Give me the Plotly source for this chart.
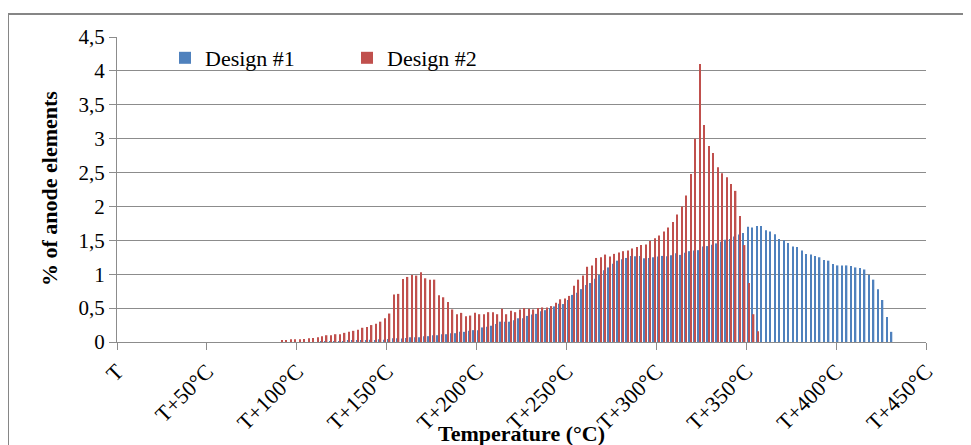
import plotly.graph_objects as go

# Temperature bins: 2.5 °C wide, from T to T+450 °C (bin centres, offset from T)
bin_width = 2.5
bin_centers = [bin_width / 2 + bin_width * i for i in range(180)]

# % of anode elements per bin (rows of 20 bins = 50 °C)
design1 = [
    0, 0, 0, 0, 0, 0, 0, 0, 0, 0, 0, 0, 0, 0, 0, 0, 0, 0, 0, 0,
    0, 0, 0, 0, 0, 0, 0, 0, 0, 0, 0, 0, 0, 0, 0, 0, 0, 0, 0, 0,
    0, 0, 0, 0, 0, 0.005, 0.005, 0.01, 0.01, 0.01, 0.012, 0.015, 0.02, 0.015, 0.02, 0.025, 0.035, 0.03, 0.04, 0.035,
    0.045, 0.055, 0.055, 0.05, 0.06, 0.07, 0.07, 0.07, 0.085, 0.086, 0.10, 0.10, 0.115, 0.115, 0.13, 0.13, 0.15, 0.15, 0.165, 0.175,
    0.175, 0.215, 0.225, 0.24, 0.265, 0.30, 0.30, 0.30, 0.32, 0.35, 0.35, 0.385, 0.405, 0.415, 0.455, 0.47, 0.50, 0.525, 0.565, 0.56,
    0.62, 0.695, 0.725, 0.78, 0.84, 0.87, 0.935, 0.99, 1.06, 1.10, 1.155, 1.20, 1.22, 1.24, 1.27, 1.265, 1.27, 1.235, 1.24, 1.25,
    1.26, 1.27, 1.265, 1.28, 1.31, 1.285, 1.315, 1.34, 1.35, 1.355, 1.41, 1.415, 1.435, 1.455, 1.48, 1.51, 1.52, 1.555, 1.585, 1.61,
    1.70, 1.69, 1.71, 1.71, 1.65, 1.63, 1.59, 1.52, 1.50, 1.46, 1.41, 1.40, 1.35, 1.30, 1.29, 1.27, 1.25, 1.21, 1.20, 1.15,
    1.13, 1.13, 1.13, 1.12, 1.10, 1.09, 1.07, 0.99, 0.92, 0.78, 0.62, 0.37, 0.15, 0, 0, 0, 0, 0, 0, 0,
]

design2 = [
    0, 0, 0, 0, 0, 0, 0, 0, 0, 0, 0, 0, 0, 0, 0, 0, 0, 0, 0, 0,
    0, 0, 0, 0, 0, 0, 0, 0, 0, 0, 0, 0, 0, 0, 0, 0, 0.025, 0.03, 0.04, 0.04,
    0.04, 0.045, 0.055, 0.06, 0.07, 0.085, 0.10, 0.10, 0.115, 0.115, 0.135, 0.15, 0.165, 0.18, 0.21, 0.22, 0.25, 0.27, 0.30, 0.35,
    0.42, 0.70, 0.71, 0.93, 0.96, 0.99, 0.98, 1.03, 0.94, 0.92, 0.92, 0.69, 0.66, 0.59, 0.48, 0.41, 0.43, 0.38, 0.39, 0.43,
    0.41, 0.41, 0.44, 0.44, 0.41, 0.49, 0.41, 0.46, 0.44, 0.48, 0.50, 0.49, 0.48, 0.50, 0.51, 0.51, 0.53, 0.58, 0.63, 0.64,
    0.68, 0.83, 0.92, 0.98, 1.11, 1.13, 1.24, 1.25, 1.29, 1.26, 1.30, 1.32, 1.34, 1.35, 1.38, 1.40, 1.43, 1.44, 1.49, 1.53,
    1.57, 1.63, 1.69, 1.77, 1.88, 2.00, 2.16, 2.48, 3.00, 4.10, 3.20, 2.89, 2.79, 2.58, 2.49, 2.43, 2.33, 2.23, 1.86, 1.43,
    0.87, 0.41, 0.16, 0, 0, 0, 0, 0, 0, 0, 0, 0, 0, 0, 0, 0, 0, 0, 0, 0,
    0, 0, 0, 0, 0, 0, 0, 0, 0, 0, 0, 0, 0, 0, 0, 0, 0, 0, 0, 0,
]

x_tick_vals = [0, 50, 100, 150, 200, 250, 300, 350, 400, 450]
x_tick_text = ["T", "T+50°C", "T+100°C", "T+150°C", "T+200°C", "T+250°C",
               "T+300°C", "T+350°C", "T+400°C", "T+450°C"]
y_tick_vals = [0, 0.5, 1, 1.5, 2, 2.5, 3, 3.5, 4, 4.5]
y_tick_text = ["0", "0,5", "1", "1,5", "2", "2,5", "3", "3,5", "4", "4,5"]

BLUE = "#4F81BD"
RED = "#C0504D"
GRID = "#8C8C8C"
SERIF = "Liberation Serif"

fig = go.Figure()
fig.add_trace(go.Bar(x=bin_centers, y=design1, name="Design #1", showlegend=True,
                     marker=dict(color=BLUE, line=dict(width=0)), legend="legend"))
fig.add_trace(go.Bar(x=bin_centers, y=design2, name="Design #2", showlegend=True,
                     marker=dict(color=RED, line=dict(width=0)), legend="legend2"))

# page is 971x445; the html body adds an 8px margin, so the figure is drawn at (8, 8)
OFF = 8
W, H = 971 - OFF, 445 - OFF
PL, PR, PT, PB = 117, 926, 37, 342      # plot area in page pixels
ml, mr, mt, mb = PL - OFF, 971 - PR, PT - OFF, 445 - PB
pw = W - ml - mr
ph = H - mt - mb

def px2x(px):
    return (px - PL) / pw

def py2y(py):
    return (PB - py) / ph

fig.update_layout(
    width=W, height=H,
    margin=dict(l=ml, r=mr, t=mt, b=mb, autoexpand=False),
    paper_bgcolor="white", plot_bgcolor="white",
    barmode="group", bargap=0.38, bargroupgap=0.0,
    showlegend=True,
    font=dict(family=SERIF, color="black", size=18),
    legend=dict(orientation="h", x=px2x(165), y=py2y(58), xanchor="left", yanchor="middle",
                bgcolor="rgba(0,0,0,0)", font=dict(family=SERIF, size=22, color="black")),
    legend2=dict(orientation="h", x=px2x(347), y=py2y(58), xanchor="left", yanchor="middle",
                 bgcolor="rgba(0,0,0,0)", font=dict(family=SERIF, size=22, color="black")),
    xaxis=dict(
        range=[0, 450], tickmode="array", tickvals=x_tick_vals, ticktext=x_tick_text,
        tickangle=-45, showgrid=False, zeroline=False,
        showline=True, linecolor=GRID, linewidth=1,
        ticks="outside", ticklen=7, tickcolor=GRID, tickwidth=1,
        tickfont=dict(family=SERIF, size=22, color="black"),
        automargin=False,
    ),
    yaxis=dict(
        range=[0, 4.5], tickmode="array", tickvals=y_tick_vals, ticktext=y_tick_text,
        showgrid=True, gridcolor=GRID, gridwidth=1, zeroline=False,
        showline=True, linecolor=GRID, linewidth=1,
        ticks="outside", ticklen=7, tickcolor=GRID, tickwidth=1,
        tickfont=dict(family=SERIF, size=21, color="black"),
        automargin=False,
    ),
    annotations=[
        dict(text="<b>% of anode elements</b>", xref="paper", yref="paper",
             x=px2x(49), y=py2y(189), textangle=-90, showarrow=False,
             xanchor="center", yanchor="middle",
             font=dict(family=SERIF, size=22, color="black")),
        dict(text="<b>Temperature (°C)</b>", xref="paper", yref="paper",
             x=px2x(521), y=py2y(433), showarrow=False,
             xanchor="center", yanchor="middle",
             font=dict(family=SERIF, size=22, color="black")),
    ],
    shapes=[
        dict(type="rect", xref="paper", yref="paper",
             x0=px2x(8), x1=px2x(990), y0=py2y(470), y1=py2y(14),
             line=dict(color="#868686", width=2), fillcolor="rgba(0,0,0,0)", layer="below"),
    ],
)

fig.write_html("out.html")
